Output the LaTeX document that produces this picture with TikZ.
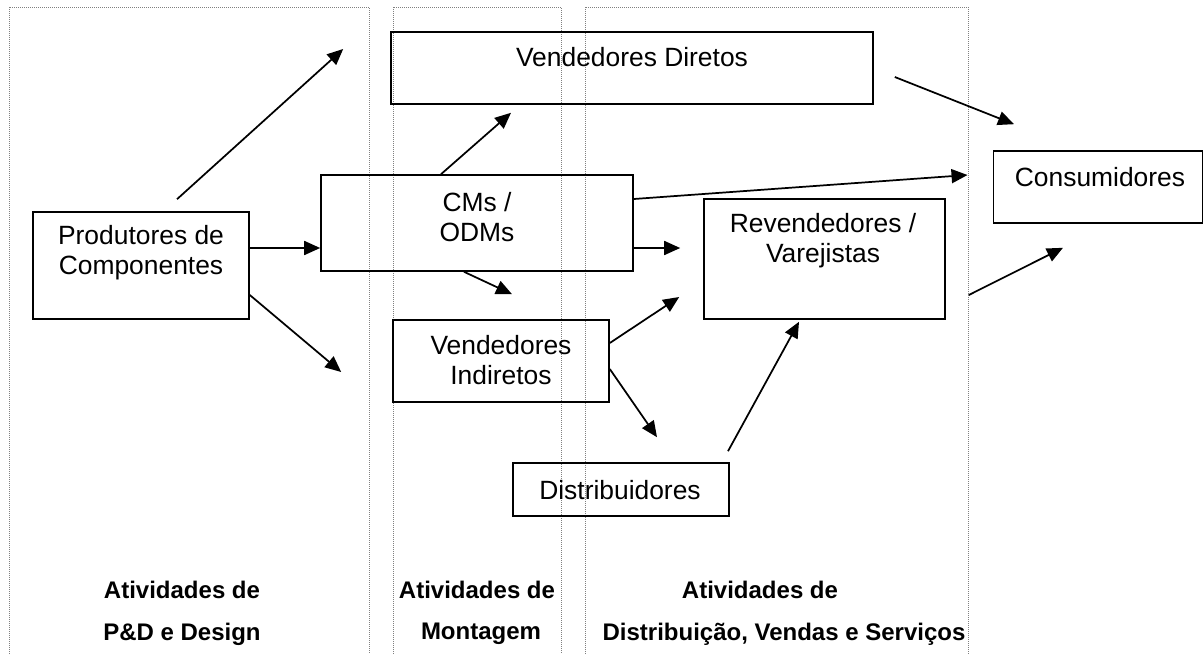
\documentclass[tikz,border=0pt]{standalone}
\usepackage{fontspec}
\setmainfont{Liberation Sans}
\usetikzlibrary{arrows.meta}
\tikzset{
  box/.style={draw, line width=1.2pt, inner sep=0pt},
  boxtext/.style={align=center, inner sep=0pt, font=\fontsize{19.8}{22.5}\selectfont},
  coltext/.style={inner sep=0pt, font=\fontsize{18}{20}\selectfont\bfseries},
  column/.style={gray, densely dotted, line width=0.5pt},
  flow/.style={-{Triangle[length=12pt,width=10.5pt]}, line width=1.3pt},
}
\begin{document}
\begin{tikzpicture}[x=0.75pt, y=0.75pt]
  \useasboundingbox (0,0) rectangle (1204,-654);
  % columns
  \draw[column] (9,-654) |- (369,-7) -- (369,-654);
  \draw[column] (393,-654) |- (561,-7) -- (561,-654);
  \draw[column] (585,-654) |- (968,-7) -- (968,-654);
  % boxes
  \node[box, minimum width=162pt, minimum height=80.25pt] (prod) at (141,-265.5) {};
  \node[box, minimum width=234pt, minimum height=72pt] (cms) at (477,-223) {};
  \node[box, minimum width=361.5pt, minimum height=54pt] (vd) at (632,-68) {};
  \node[box, minimum width=162pt, minimum height=61.5pt] (vi) at (501,-361) {};
  \node[box, minimum width=180.75pt, minimum height=90pt] (rev) at (824.5,-259) {};
  \node[box, minimum width=162pt, minimum height=39.75pt] (dist) at (621,-489.5) {};
  \node[box, minimum width=157pt, minimum height=54pt] (cons) at (1098,-187) {};
  % box texts
  \node[boxtext] (prodtext) at (141,-253) {Produtores de\\Componentes};
  \node[boxtext] (cmstext) at (477,-217) {CMs /\\ODMs};
  \node[boxtext] (vdtext) at (632,-57) {Vendedores Diretos};
  \node[boxtext] (vitext) at (501,-360) {Vendedores\\Indiretos};
  \node[boxtext] (revtext) at (823,-241) {Revendedores /\\Varejistas};
  \node[boxtext] (disttext) at (620,-490) {Distribuidores};
  \node[boxtext] (constext) at (1100,-177) {Consumidores};
  % column labels
  \node[coltext] (pd1) at (182,-590) {Atividades de};
  \node[coltext] (pd2) at (182,-634) {P\&D e Design};
  \node[coltext] (mont1) at (477,-590) {Atividades de};
  \node[coltext] (mont2) at (481,-634) {Montagem};
  \node[coltext] (dvs1) at (760,-590) {Atividades de};
  \node[coltext] (dvs2) at (784,-634) {Distribuição, Vendas e Serviços};
  % flows
  \draw[flow] ([shift={(36,12)}]prod.north) -- ([shift={(-47,19)}]vd.west);
  \draw[flow] ([shift={(0,17.5)}]prod.east) -- ([shift={(0,-25)}]cms.west);
  \draw[flow] ([shift={(0,-29.5)}]prod.east) -- ([shift={(-51,-11)}]vi.west);
  \draw[flow] ([shift={(-36,0)}]cms.north) -- ([shift={(-121,-8)}]vd.south);
  \draw[flow] ([shift={(0,24)}]cms.east) -- ([shift={(-25,12)}]cons.west);
  \draw[flow] ([shift={(0,-25)}]cms.east) -- ([shift={(-23,11)}]rev.west);
  \draw[flow] ([shift={(-13,0)}]cms.south) -- ([shift={(11,25)}]vi.north);
  \draw[flow] ([shift={(21,-9)}]vd.east) -- ([shift={(-84,26)}]cons.north);
  \draw[flow] ([shift={(0,18)}]vi.east) -- ([shift={(-24,-38)}]rev.west);
  \draw[flow] ([shift={(0,-8)}]vi.east) -- ([shift={(36,25)}]dist.north);
  \draw[flow] ([shift={(107,11)}]dist.north) -- ([shift={(-25.5,-2)}]rev.south);
  \draw[flow] ([shift={(23,-36)}]rev.east) -- ([shift={(-35,-24)}]cons.south);
\end{tikzpicture}
\end{document}
